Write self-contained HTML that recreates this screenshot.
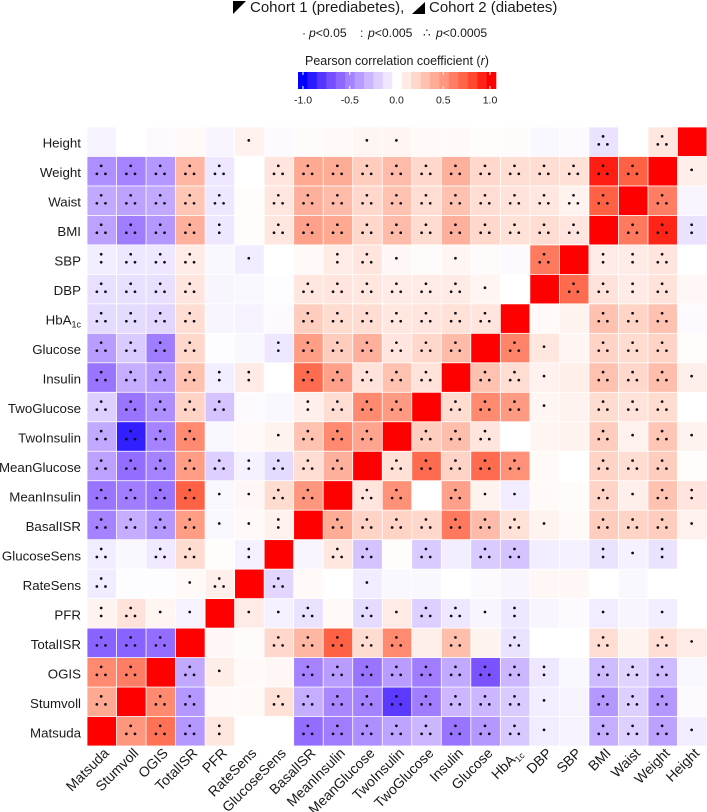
<!DOCTYPE html>
<html lang="en">
<head>
<meta charset="utf-8">
<title>Pearson correlation matrix</title>
<style>
html,body{margin:0;padding:0;background:#fff;width:707px;height:812px;overflow:hidden}
svg{display:block;font-family:"Liberation Sans",Arial,sans-serif;fill:#1a1a1a}
</style>
</head>
<body>
<svg id="chart" xmlns="http://www.w3.org/2000/svg" width="707" height="812" viewBox="0 0 707 812">
  <g>
    <polygon points="233,1 246,1 233,14" fill="#000"/>
    <text x="250" y="12" font-size="15">Cohort 1 (prediabetes),</text>
    <polygon points="425,2 425,14 412,14" fill="#000"/>
    <text x="429" y="12" font-size="15">Cohort 2 (diabetes)</text>
  </g>
  <g font-size="12.2">
    <text y="37"><tspan x="302">·</tspan><tspan x="309" font-style="italic">p</tspan>&lt;0.05</text>
    <text y="37"><tspan x="360">:</tspan><tspan x="368" font-style="italic">p</tspan>&lt;0.005</text>
    <text y="37"><tspan x="423">∴</tspan><tspan x="436" font-style="italic">p</tspan>&lt;0.0005</text>
  </g>
  <text x="305" y="65" font-size="12.5">Pearson correlation coefficient (<tspan font-style="italic">r</tspan>)</text>
  <g id="colorbar"></g>
  <g id="cells"></g>
  <g id="dots"></g>
  <g id="ylabels"></g>
  <g id="xlabels"></g>
</svg>
<script>
const xCategories = ["Matsuda","Stumvoll","OGIS","TotalISR","PFR","RateSens","GlucoseSens","BasalISR","MeanInsulin","MeanGlucose","TwoInsulin","TwoGlucose","Insulin","Glucose","HbA1c","DBP","SBP","BMI","Waist","Weight","Height"];
const yCategories = ["Height","Weight","Waist","BMI","SBP","DBP","HbA1c","Glucose","Insulin","TwoGlucose","TwoInsulin","MeanGlucose","MeanInsulin","BasalISR","GlucoseSens","RateSens","PFR","TotalISR","OGIS","Stumvoll","Matsuda"];
const rValues = [
[-.05,0,-.02,.03,-.04,.07,-.02,.02,.03,.05,.05,.03,.03,.01,.02,-.03,-.02,-.12,0,.12,1],
[-.45,-.5,-.42,.35,-.1,0,.13,.42,.4,.25,.33,.2,.38,.2,.17,.17,.15,.92,.72,1,.08],
[-.35,-.38,-.35,.28,-.1,.01,.12,.38,.33,.2,.3,.17,.3,.17,.14,.12,.06,.72,1,.6,-.04],
[-.38,-.52,-.42,.38,-.1,.01,.12,.45,.42,.2,.33,.18,.38,.2,.15,.17,.13,1,.62,.9,-.12],
[-.07,-.1,-.1,.1,-.03,-.08,0,.03,.1,.13,.04,.02,.05,.02,-.02,.62,1,.1,.1,.13,0],
[-.13,-.13,-.13,.13,-.04,-.03,-.01,.12,.13,.12,.1,.1,.1,.05,0,1,.68,.14,.1,.14,.04],
[-.15,-.15,-.17,.17,-.04,-.05,-.02,.25,.18,.17,.12,.13,.15,.13,1,.03,.06,.3,.22,.3,-.02],
[-.4,-.22,-.52,.2,-.01,-.03,-.1,.47,.25,.38,.13,.2,.33,1,.58,.12,.05,.22,.18,.22,.01],
[-.55,-.33,-.4,.3,-.07,.1,0,.68,.45,.14,.3,.14,1,.3,.17,.07,.08,.3,.2,.32,.08],
[-.2,-.55,-.45,.22,-.25,-.02,-.03,.08,.17,.55,.48,1,.18,.55,.48,.05,.06,.18,.14,.18,0],
[-.35,-.88,-.5,.55,-.03,.03,.06,.3,.55,.43,1,.25,.32,.13,0,.05,.06,.25,.07,.28,.06],
[-.38,-.58,-.5,.47,-.2,-.06,-.15,.17,.38,1,.15,.68,.22,.68,.52,.03,0,.22,.17,.25,.01],
[-.55,-.52,-.55,.72,-.03,.04,.18,.5,1,.13,.52,0,.45,.06,-.08,.03,.02,.22,.08,.3,.13],
[-.5,-.33,-.42,.47,-.03,.03,.07,1,.4,.22,.22,.2,.62,.33,.15,.06,.03,.25,.22,.25,.07],
[-.08,-.03,-.09,.18,.01,-.06,1,-.04,.12,-.25,.01,-.22,-.07,-.22,-.25,-.07,-.06,-.12,-.06,-.12,0],
[-.08,-.01,-.01,.03,.08,1,-.17,.03,0,-.08,-.03,-.03,0,-.02,-.04,.04,.04,0,-.03,0,0],
[.06,.14,.05,-.05,1,.1,-.06,-.12,.03,-.15,.1,-.2,-.1,-.04,-.1,-.04,-.02,-.08,-.04,-.07,0],
[-.62,-.62,-.58,1,.04,.02,.2,.35,.72,.18,.55,.08,.32,.06,-.12,0,0,.17,.06,.16,.1],
[.55,.6,1,-.35,.09,.03,.04,-.5,-.4,-.55,-.4,-.52,-.35,-.68,-.3,-.1,-.03,-.28,-.18,-.28,-.03],
[.42,1,.55,-.42,.03,.03,.15,-.33,-.48,-.5,-.78,-.52,-.3,-.3,-.22,-.07,-.05,-.42,-.2,-.42,-.02],
[1,.5,.65,-.42,.12,0,0,-.58,-.52,-.45,-.37,-.3,-.55,-.42,-.23,-.08,-.05,-.33,-.2,-.38,-.07]
];
const significance = [
[0,0,0,0,0,1,0,0,0,1,1,0,0,0,0,0,0,3,0,3,0],
[3,3,3,3,3,0,3,3,3,3,3,3,3,3,3,3,3,3,3,0,1],
[3,3,3,3,3,0,3,3,3,3,3,3,3,3,3,3,3,3,0,3,0],
[3,3,3,3,2,0,3,3,3,3,3,3,3,3,3,3,3,0,3,3,2],
[2,3,3,3,0,1,0,0,2,3,1,0,1,0,0,3,0,2,2,3,0],
[3,3,3,3,0,0,0,3,3,3,3,3,3,1,0,0,3,3,2,3,0],
[3,3,3,3,0,0,0,3,3,3,3,3,3,3,0,0,0,3,3,3,0],
[3,3,3,3,0,0,2,3,3,3,3,3,3,0,3,1,0,3,3,3,0],
[3,3,3,3,2,2,0,3,3,3,3,3,0,3,3,1,0,3,3,3,1],
[3,3,3,3,3,0,0,2,3,3,3,0,3,3,3,1,0,3,3,3,0],
[3,3,3,3,0,0,1,3,3,3,0,3,3,3,0,0,0,3,1,3,1],
[3,3,3,3,3,2,3,3,3,0,3,3,3,3,3,0,0,3,3,3,0],
[3,3,3,3,1,1,3,3,0,3,3,0,3,1,1,0,0,3,1,3,2],
[3,3,3,3,1,1,2,0,3,3,3,3,3,3,3,1,0,3,3,3,1],
[3,0,3,3,0,2,0,0,3,3,0,3,0,3,3,0,0,2,1,2,0],
[3,0,0,1,3,0,3,0,0,1,0,0,0,0,0,0,0,0,0,0,0],
[2,3,1,1,0,1,1,3,0,3,1,3,3,1,2,0,0,1,0,1,0],
[3,3,3,0,0,0,3,3,3,3,3,0,3,0,3,0,0,3,0,3,1],
[3,3,0,3,1,0,0,3,3,3,3,3,3,3,3,2,0,3,3,3,0],
[3,0,3,3,0,0,3,3,3,3,3,3,3,3,3,1,0,3,3,3,0],
[0,3,3,3,2,0,0,3,3,3,3,3,3,3,3,1,0,3,3,3,1]
];
const colorbarSteps = [-1,-.9,-.8,-.7,-.6,-.5,-.4,-.3,-.2,-.1,0,.1,.2,.3,.4,.5,.6,.7,.8,.9,1];
const colorbarTicks = [-1,-.5,0,.5,1];
const colorbarTickLabels = ["-1.0","-0.5","0.0","0.5","1.0"];

const svgNS = "http://www.w3.org/2000/svg";
const plotLeft = 87, plotTop = 127, pitchX = 620/21, pitchY = 619/21;
const xScale = function(i){ return plotLeft + i*pitchX; };
const yScale = function(j){ return plotTop + j*pitchY; };
const barLeft = 298, barRight = 496, barTop = 72, barBottom = 89;
const barScale = function(v){ return 303 + (v+1)/2*187; };

function mix(a,b,t){ return [0,1,2].map(function(k){ return Math.round(a[k]+(b[k]-a[k])*t); }); }
const posStops = [[255,255,255],[255,205,190],[255,150,125],[255,90,60],[255,0,0]];
const negStops = [[255,255,255],[212,195,255],[165,130,255],[105,65,255],[0,0,255]];
function colorFor(r){
  const stops = r >= 0 ? posStops : negStops;
  const p = Math.min(Math.abs(r),1)*4;
  const i = Math.min(Math.floor(p),3);
  const c = mix(stops[i],stops[i+1],p-i);
  return "rgb("+c.join(",")+")";
}
function make(tag,attrs,parent){
  const el = document.createElementNS(svgNS,tag);
  Object.keys(attrs).forEach(function(k){ el.setAttribute(k,attrs[k]); });
  parent.appendChild(el);
  return el;
}
function setLabel(el,label){
  if(label === "HbA1c"){
    el.appendChild(document.createTextNode("HbA"));
    const sub = document.createElementNS(svgNS,"tspan");
    sub.setAttribute("font-size","9");
    sub.setAttribute("dy","3");
    sub.textContent = "1c";
    el.appendChild(sub);
  } else {
    el.textContent = label;
  }
}

const cellsG = document.getElementById("cells");
const dotsG = document.getElementById("dots");
const dotOffsets = {
  1: [[0,-1.4]],
  2: [[0,-5.4],[0,2.6]],
  3: [[0,-5.4],[-4.3,2.6],[4.3,2.6]]
};
rValues.forEach(function(row,j){
  row.forEach(function(r,i){
    const rect = make("rect",{x:xScale(i)+.4,y:yScale(j)+.4,width:pitchX-.8,height:pitchY-.8,fill:colorFor(r)},cellsG);
    
    
    const cx = xScale(i)+pitchX/2-.6, cy = yScale(j)+pitchY/2;
    (dotOffsets[significance[j][i]]||[]).forEach(function(o){
      const dot = make("circle",{cx:cx+o[0],cy:cy+o[1],r:1.35,fill:"#0a0a14"},dotsG);
      
      
    });
  });
});

const ylabelsG = document.getElementById("ylabels");
yCategories.forEach(function(label,j){
  const t = make("text",{x:81,y:yScale(j)+pitchY/2+6,"text-anchor":"end","font-size":13.3},ylabelsG);
  
  
  setLabel(t,label);
});

const xlabelsG = document.getElementById("xlabels");
xCategories.forEach(function(label,i){
  const x = xScale(i)+pitchX/2+8, y = 754;
  const t = make("text",{x:x,y:y,"text-anchor":"end","font-size":14,transform:"rotate(-45 "+x+" "+y+")"},xlabelsG);
  
  
  setLabel(t,label);
});

const cbG = document.getElementById("colorbar");
const segW = (barRight-barLeft)/colorbarSteps.length;
colorbarSteps.forEach(function(v,i){
  const s = make("rect",{x:barLeft+i*segW,y:barTop,width:segW+.3,height:barBottom-barTop,fill:colorFor(v)},cbG);
  
  
});
colorbarTicks.forEach(function(v,i){
  const x = barScale(v);
  const a = make("line",{x1:x,x2:x,y1:barTop,y2:barTop+3,stroke:"#fff","stroke-width":1},cbG);
  
  
  const b = make("line",{x1:x,x2:x,y1:barBottom-3,y2:barBottom,stroke:"#fff","stroke-width":1},cbG);
  
  
  const t = make("text",{x:x,y:103.5,"text-anchor":"middle","font-size":10.5},cbG);
  
  
  t.textContent = colorbarTickLabels[i];
});
</script>
</body>
</html>
